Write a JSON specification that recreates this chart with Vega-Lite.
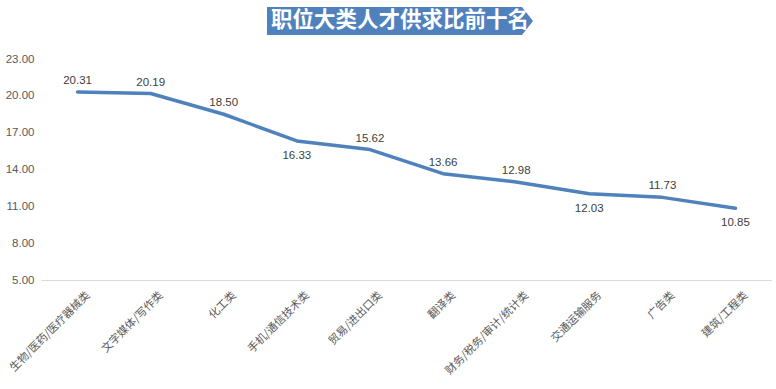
{
  "$schema": "https://vega.github.io/schema/vega-lite/v6.json",
  "background": "white",
  "padding": {"left": 5, "top": 7, "right": 0, "bottom": 0},
  "config": {"view": {"stroke": null}},
  "bounds": "flush",
  "spacing": 24,
  "vconcat": [
    {
      "width": 718,
      "height": 28,
      "data": {"values": [{"title": "职位大类人才供求比前十名"}]},
      "layer": [
        {
          "mark": {"type": "point", "shape": "M -1 -0.105 L 0.917 -0.105 L 1 0 L 0.917 0.105 L -1 0.105 Z", "size": 70756, "filled": true, "color": "#4f81bd", "opacity": 1, "strokeWidth": 0},
          "encoding": {}
        },
        {
          "mark": {"type": "text", "font": "Noto Sans CJK SC", "fontSize": 21.5, "fontWeight": "bold", "color": "white", "baseline": "middle", "align": "center"},
          "encoding": {"text": {"field": "title"}}
        }
      ]
    },
    {
      "width": 731,
      "height": 221,
      "data": {"values": [
        {"category": "生物/医药/医疗器械类", "ratio": 20.31},
        {"category": "文字媒体/写作类", "ratio": 20.19},
        {"category": "化工类", "ratio": 18.50},
        {"category": "手机/通信技术类", "ratio": 16.33},
        {"category": "贸易/进出口类", "ratio": 15.62},
        {"category": "翻译类", "ratio": 13.66},
        {"category": "财务/税务/审计/统计类", "ratio": 12.98},
        {"category": "交通运输服务", "ratio": 12.03},
        {"category": "广告类", "ratio": 11.73},
        {"category": "建筑/工程类", "ratio": 10.85}
      ]},
      "encoding": {
        "x": {
          "field": "category", "type": "nominal", "sort": null, "title": null,
          "scale": {"type": "point", "padding": 0.5, "domain": ["生物/医药/医疗器械类", "文字媒体/写作类", "化工类", "手机/通信技术类", "贸易/进出口类", "翻译类", "财务/税务/审计/统计类", "交通运输服务", "广告类", "建筑/工程类"]},
          "axis": {"labelAngle": -45, "labelFont": "Noto Sans CJK SC", "labelFontSize": 11, "labelColor": "#595959", "ticks": false, "domainColor": "#d9d9d9", "domainWidth": 1, "labelPadding": 9, "labelDy": 3, "labelOffset": 6, "labelOverlap": false, "labelLimit": 0}
        },
        "y": {
          "field": "ratio", "type": "quantitative", "title": null,
          "scale": {"domain": [5, 23], "nice": false, "zero": false},
          "axis": {"values": [5, 8, 11, 14, 17, 20, 23], "format": ".2f", "domain": false, "ticks": false, "grid": false, "labelColor": "#595959", "labelFont": "Liberation Sans", "labelFontSize": 11.5, "labelPadding": 7}
        }
      },
      "layer": [
        {"mark": {"type": "line", "color": "#4f81bd", "strokeWidth": 3.5, "strokeJoin": "round", "strokeCap": "round"}},
        {
          "transform": [{"filter": {"not": {"field": "category", "oneOf": ["手机/通信技术类", "交通运输服务", "建筑/工程类"]}}}],
          "mark": {"type": "text", "dy": -11, "font": "Liberation Sans", "fontSize": 11.5, "color": "#404040", "baseline": "middle"},
          "encoding": {"text": {"field": "ratio", "type": "quantitative", "format": ".2f"}}
        },
        {
          "transform": [{"filter": {"field": "category", "oneOf": ["手机/通信技术类", "交通运输服务", "建筑/工程类"]}}],
          "mark": {"type": "text", "dy": 15, "font": "Liberation Sans", "fontSize": 11.5, "color": "#404040", "baseline": "middle"},
          "encoding": {"text": {"field": "ratio", "type": "quantitative", "format": ".2f"}}
        }
      ]
    }
  ]
}
